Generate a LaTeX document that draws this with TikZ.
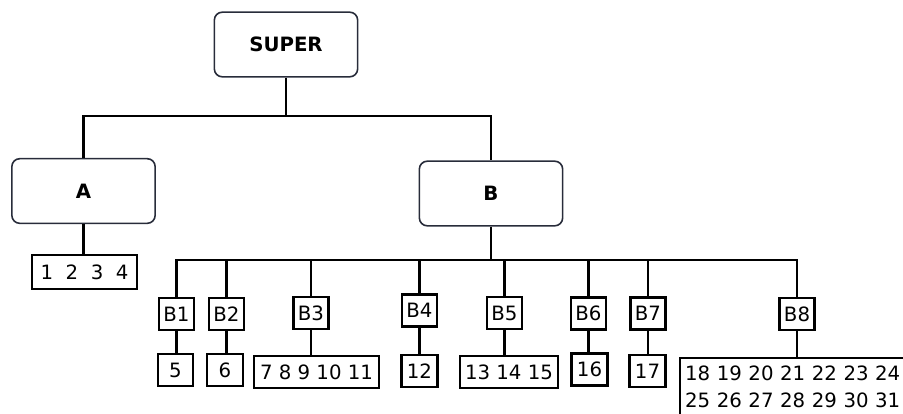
\documentclass[tikz,border=0pt]{standalone}
\usepackage{fontspec}
\setmainfont{DejaVu Sans}
\definecolor{boxline}{RGB}{40,44,58}
\begin{document}
\begin{tikzpicture}[x=0.75pt,y=0.75pt,yscale=-1,xscale=1,
  every node/.style={font=\fontsize{14.8}{20.25}\selectfont},
  group/.style={draw=boxline, line width=1.2pt, rounded corners=6pt, minimum width=107.5pt, minimum height=48.5pt, font=\fontsize{14.8}{20.25}\selectfont\bfseries},
  sub/.style={draw, line width=1.7pt, minimum width=26.25pt, minimum height=24pt, inner sep=0pt},
  leaf/.style={draw, line width=1.7pt, minimum height=24pt, inner xsep=4pt, inner ysep=0pt},
  link/.style={line width=1.7pt}]
\useasboundingbox (0,0) rectangle (903,414);

%Shape: Rounded Rect [id:super]
\node [group] (SUPER) at (286,44.5) {SUPER};
%Shape: Rounded Rect [id:a]
\node [group] (A) at (83.5,191) {A};
%Shape: Rounded Rect [id:b]
\node [group] (B) at (491,193.5) {B};

%Shape: Rectangle [id:subs]
\node [sub] (B1) at (176.5,314) {B1};
\node [sub] (B2) at (226.5,314) {B2};
\node [sub] (B3) at (311,313) {B3};
\node [sub] (B4) at (419.5,310.5) {B4};
\node [sub] (B5) at (504.5,313) {B5};
\node [sub] (B6) at (588.5,313.5) {B6};
\node [sub] (B7) at (648,313.5) {B7};
\node [sub] (B8) at (797,314) {B8};

%Shape: Rectangle [id:leaves]
\node [leaf, minimum width=78.75pt, minimum height=25.5pt] (L1) at (84.5,272) {1\ \ 2\ \ 3\ \ 4};
\node [leaf, minimum width=26.25pt] (L5) at (175.5,370) {5};
\node [leaf, minimum width=27pt] (L6) at (225,370) {6};
\node [leaf, minimum width=93.75pt] (L7) at (316.5,372) {7 8 9 10 11};
\node [leaf, minimum width=26.25pt] (L12) at (419.5,371) {12};
\node [leaf, minimum width=73.5pt] (L13) at (509,372) {13 14 15};
\node [leaf, minimum width=26.25pt] (L16) at (589.5,369.5) {16};
\node [leaf, minimum width=26.25pt] (L17) at (647.5,371) {17};
\node [leaf, anchor=north west, text width=195pt, align=left, inner xsep=3.75pt, inner ysep=6pt] (L18) at (679,357) {18 19 20 21 22 23 24\\25 26 27 28 29 30 31\rule[-10pt]{0pt}{0pt}};

%Straight Lines [id:bus]
\coordinate (top bus) at (286,116);
\coordinate (b bus) at (491,260);
\draw [link] (SUPER.south) -- (top bus);
\draw [link] (top bus) -| (A.north);
\draw [link] (top bus) -| (B.north);
\draw [link] (B.south) -- (b bus);
\foreach \s in {B1,B2,B3,B4,B5,B6,B7,B8}
  \draw [link] (b bus) -| (\s.north);

%Straight Lines [id:down]
\foreach \s/\l in {A/L1,B1/L5,B2/L6,B3/L7,B4/L12,B5/L13,B6/L16,B7/L17,B8/L18}
  \draw [link] (\s.south) -- (\s.south |- \l.north);

\end{tikzpicture}
\end{document}
